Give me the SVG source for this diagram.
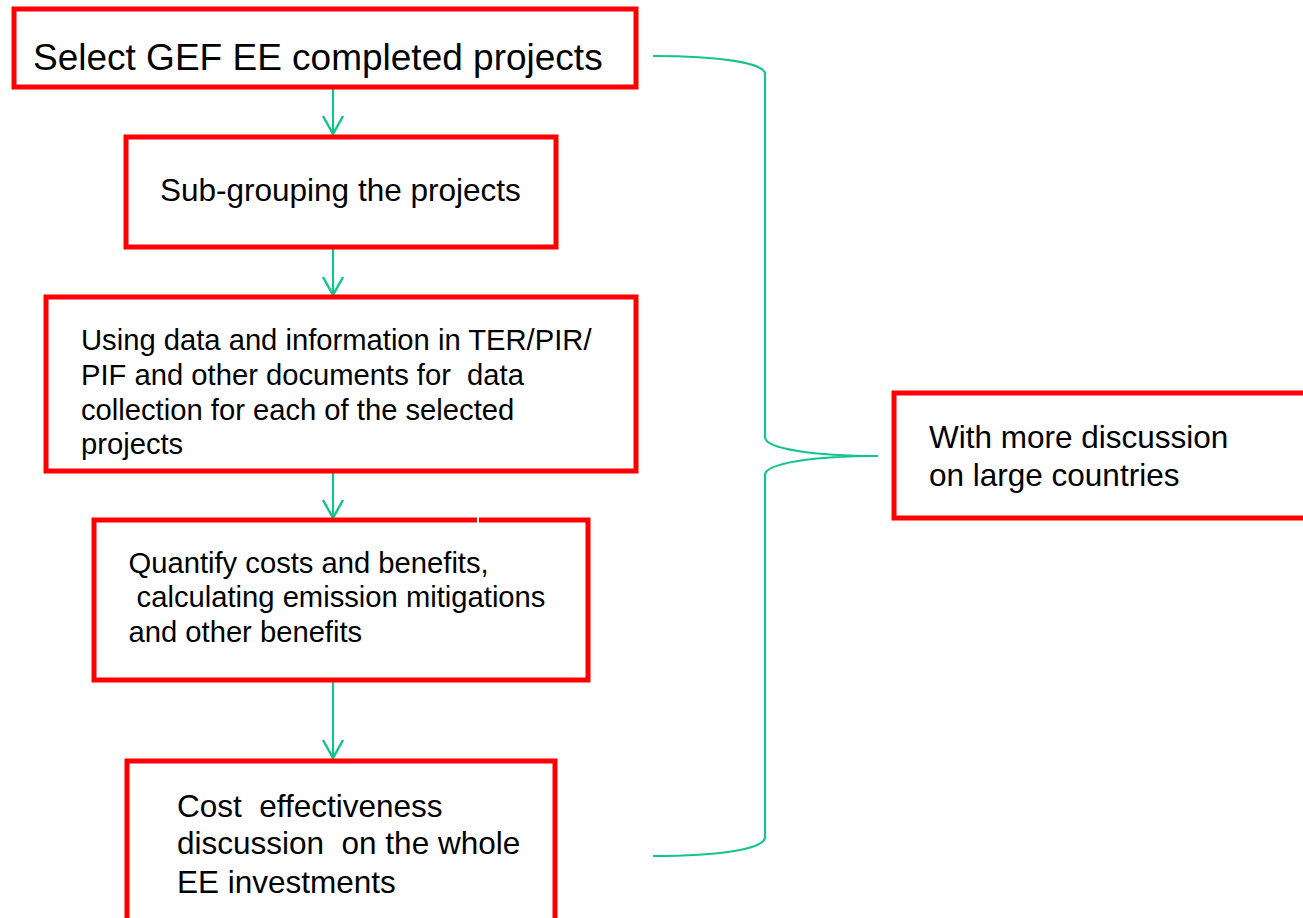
<svg xmlns="http://www.w3.org/2000/svg" width="1303" height="918" viewBox="0 0 1303 918">
<style>
.box{fill:#FFFFFF;stroke:#FF0000;stroke-width:5}
.t{font-family:"Liberation Sans",Arial,sans-serif;fill:#000000}
.con{fill:none;stroke:#14C48E;stroke-width:2.2}
</style>
<defs>
<marker id="arr" markerUnits="userSpaceOnUse" markerWidth="22" markerHeight="24" refX="19" refY="11" orient="auto" viewBox="0 0 22 24">
<path d="M1,1 L19,11 L1,21" fill="none" stroke="#14C48E" stroke-width="2.4"/>
</marker>
</defs>
<rect width="1303" height="918" fill="#FFFFFF"/>
<g id="connectors">
<line class="con" x1="333" y1="89" x2="333" y2="134" marker-end="url(#arr)"/>
<line class="con" x1="333" y1="249" x2="333" y2="295" marker-end="url(#arr)"/>
<line class="con" x1="333" y1="473" x2="333" y2="518" marker-end="url(#arr)"/>
<line class="con" x1="333" y1="682" x2="333" y2="758" marker-end="url(#arr)"/>
<path class="con" d="M653,56 C720,56 765,63 765,74 L765,437 C765,449 815,456 878,456 C815,456 765,463 765,475 L765,837 C765,849 720,856 653,856"/>
</g>
<g id="node1">
<rect class="box" x="14" y="9" width="622" height="78"/>
<text class="t" x="33" y="70" font-size="37">Select GEF EE completed projects</text>
</g>
<g id="node2">
<rect class="box" x="126" y="137" width="430" height="110"/>
<text class="t" x="160" y="201" font-size="31.5">Sub-grouping the projects</text>
</g>
<g id="node3">
<rect class="box" x="46" y="297" width="590" height="174"/>
<text class="t" font-size="29.2"><tspan x="81" y="350">Using data and information in TER/PIR/</tspan><tspan x="81" y="385" xml:space="preserve">PIF and other documents for  data</tspan><tspan x="81" y="420">collection for each of the selected</tspan><tspan x="81" y="454">projects</tspan></text>
</g>
<g id="node4">
<rect class="box" x="94" y="520" width="494" height="160"/>
<rect x="477" y="517" width="2" height="6" fill="#FFFFFF"/>
<text class="t" font-size="29.2"><tspan x="128.5" y="573">Quantify costs and benefits,</tspan><tspan x="128.5" y="607" xml:space="preserve"> calculating emission mitigations</tspan><tspan x="128.5" y="642">and other benefits</tspan></text>
</g>
<g id="node5">
<rect class="box" x="127" y="761" width="428" height="175"/>
<text class="t" font-size="31.5"><tspan x="177" y="817" xml:space="preserve">Cost  effectiveness</tspan><tspan x="177" y="854" xml:space="preserve">discussion  on the whole</tspan><tspan x="177" y="893">EE investments</tspan></text>
</g>
<g id="node6">
<rect class="box" x="894" y="393" width="430" height="125"/>
<text class="t" font-size="31.5"><tspan x="929" y="448">With more discussion</tspan><tspan x="929" y="486">on large countries</tspan></text>
</g>
</svg>
